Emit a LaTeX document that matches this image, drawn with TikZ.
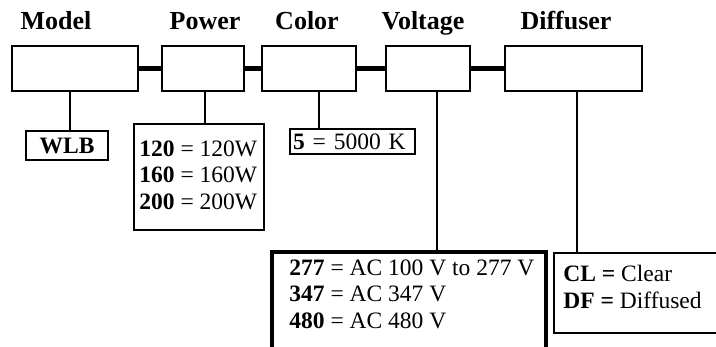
\documentclass[tikz,border=0pt]{standalone}
\usepackage{fontspec}
\setmainfont{Liberation Serif}
\usepackage{tikz}
\usetikzlibrary{positioning,calc}
\tikzset{
  topbox/.style={draw,line width=1.1pt,inner sep=0pt,minimum height=22.5pt},
  title/.style={anchor=base,font=\fontsize{13}{15}\selectfont\bfseries,inner sep=0pt},
  valbox/.style={draw,line width=1.1pt,inner sep=0pt},
  valtext/.style={anchor=north west,inner sep=0pt,align=left,
    font=\fontsize{11.75}{13.3}\selectfont},
  link/.style={line width=2.3pt},
  drop/.style={line width=0.9pt},
}

\begin{document}
\begin{tikzpicture}[x=0.5pt,y=-0.5pt]
  \useasboundingbox (0,0) rectangle (716,347);
  \clip (0,0) rectangle (716,347);
  % titles
  \node[title] (tmodel) at (56,30) {Model};
  \node[title] (tpower) at (205,30) {Power};
  \node[title] (tcolor) at (307,30) {Color};
  \node[title] (tvolt) at (423,30) {Voltage};
  \node[title] (tdiff) at (566,30) {Diffuser};
  % code boxes
  \node[topbox,minimum width=63pt] (model) at (75,68.5) {};
  \node[topbox,minimum width=41pt] (power) at (203,68.5) {};
  \node[topbox,minimum width=47pt] (color) at (309,68.5) {};
  \node[topbox,minimum width=42pt] (volt) at (428,68.5) {};
  \node[topbox,minimum width=68.5pt] (diff) at (573.5,68.5) {};
  \foreach \a/\b in {model/power,power/color,color/volt,volt/diff}
    \draw[link] (\a.east) -- (\b.west);
  % option boxes
  \node[valbox,minimum width=41pt,minimum height=14.5pt,
    font=\fontsize{11.75}{13.3}\selectfont\bfseries] (wlb) at (67,145.5) {WLB};
  \node[valbox,minimum width=65pt,minimum height=53pt] (pbox) at (199,177) {};
  \node[valtext] (ptxt) at (139,140)
    {\textbf{120} = 120W\\ \textbf{160} = 160W\\ \textbf{200} = 200W};
  \node[valbox,anchor=west,minimum height=12.5pt,inner xsep=1.5pt,text width=59.5pt,
    align=left,font=\fontsize{11.75}{13.3}\selectfont] (cbox) at (289,141.5)
    {\textbf{5} = 5000 K};
  \node[valbox,line width=1.7pt,minimum width=137pt,minimum height=59pt] (vbox) at (409,311) {};
  \node[valtext] (vtxt) at (289,259)
    {\textbf{277} = AC 100 V to 277 V\\ \textbf{347} = AC 347 V\\ \textbf{480} = AC 480 V};
  \node[valbox,minimum width=88pt,minimum height=40pt] (dbox) at (642,293) {};
  \node[valtext] (dtxt) at (563,265)
    {\textbf{CL =} Clear\\ \textbf{DF =} Diffused};
  % drops
  \foreach \a/\b/\s in {model/wlb/-2.5pt,power/pbox/1pt,color/cbox/5pt,
      volt/vbox/4.5pt,diff/dbox/1.75pt}
    \draw[drop] ([xshift=\s]\a.south) -- ([xshift=\s]\a.south |- \b.north);
\end{tikzpicture}
\end{document}
